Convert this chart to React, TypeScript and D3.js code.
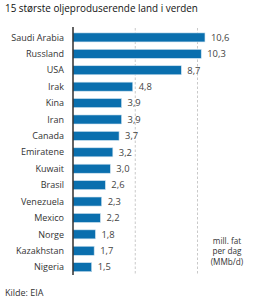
import React from "react";
import * as d3 from "d3";

const countries = ["Saudi Arabia", "Russland", "USA", "Irak", "Kina", "Iran", "Canada", "Emiratene", "Kuwait", "Brasil", "Venezuela", "Mexico", "Norge", "Kazakhstan", "Nigeria"];
const values = [10.6, 10.3, 8.7, 4.8, 3.9, 3.9, 3.7, 3.2, 3.0, 2.6, 2.3, 2.2, 1.8, 1.7, 1.5];
const gridTicks = [5, 10];
const title = "15 største oljeproduserende land i verden";
const source = "Kilde: EIA";
const unitLines = ["mill. fat", "per dag", "(MMb/d)"];

const W = 259;
const H = 300;
const font = "'Open Sans', sans-serif";

export default function App() {
  const x = d3.scaleLinear().domain([0, 10]).range([73, 197.5]);
  const y = d3.scaleBand<string>().domain(countries).range([29.3, 275.3]).paddingInner(0.45).paddingOuter(0.22);
  const fmt = (v: number) => v.toFixed(1).replace(".", ",");
  return (
    <svg width={W} height={H} style={{ position: "absolute", left: 0, top: 0, background: "#fff" }}>
      <text x={5} y={11.5} fontFamily={font} fontSize={9.9} fontWeight={500} fill="#111">{title}</text>
      {gridTicks.map((t) => (
        <line key={t} x1={x(t)} x2={x(t)} y1={28} y2={275} stroke="#bbb" strokeWidth={0.8} strokeDasharray="2.5,2" />
      ))}
      {countries.map((c, i) => (
        <g key={c}>
          <rect x={x(0)} y={y(c)!} width={x(values[i]) - x(0)} height={y.bandwidth()} fill="#0a6fae" stroke="#cfe3f0" strokeWidth={0.6} />
          <text x={64} y={y(c)! + y.bandwidth() / 2} dy="0.35em" textAnchor="end" fontFamily={font} fontSize={9} fill="#333">{c}</text>
          <text x={x(values[i]) + 6} y={y(c)! + y.bandwidth() / 2} dy="0.35em" fontFamily={font} fontSize={9.4} fill="#444">{fmt(values[i])}</text>
        </g>
      ))}
      <line x1={x(0)} x2={x(0)} y1={27} y2={275} stroke="#222" strokeWidth={1.4} />
      {unitLines.map((l, i) => (
        <text key={l} x={227} y={243.5 + i * 10.6} textAnchor="middle" fontFamily={font} fontSize={8.2} fill="#333">{l}</text>
      ))}
      <text x={5} y={296} fontFamily={font} fontSize={9} fill="#333">{source}</text>
    </svg>
  );
}
